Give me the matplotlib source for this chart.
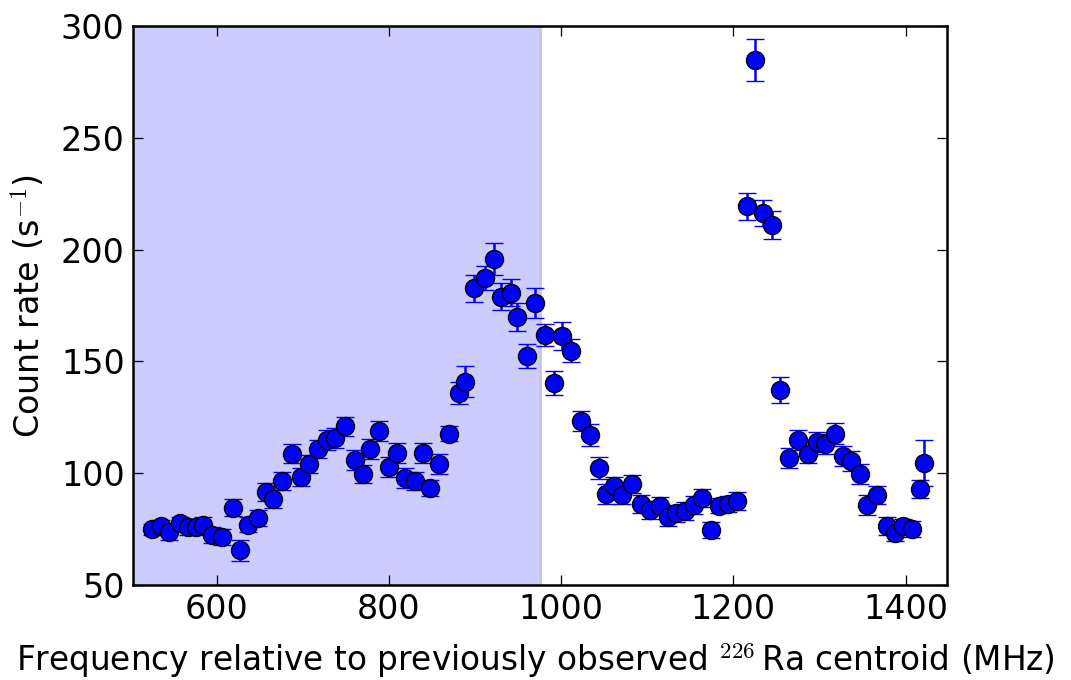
import matplotlib
matplotlib.use("Agg")
import matplotlib.pyplot as plt

plt.rcParams['mathtext.fontset'] = 'cm'
plt.rcParams['font.family'] = ['DejaVu Sans']

freq = [524.5, 535, 545, 557, 566.6, 576, 584.5, 594.5, 606.6, 618.7,
        626.8, 636.2, 648.2, 657.5, 665.7, 676.2, 687.5, 697.6, 707.7, 717.4,
        727.9, 737.6, 749.3, 760.6, 769.5, 778, 788.9, 800.6, 810, 818.9,
        830, 840, 848, 858.5, 870, 881.5, 889, 898.5, 911.4, 921.9,
        929.7, 941.3, 949, 960, 969.3, 981, 992.2, 1000.8, 1011.3, 1023.3,
        1033.8, 1043.6, 1052, 1061.5, 1071, 1082.8, 1092.9, 1103.4, 1114.6, 1123.8,
        1133.7, 1143.8, 1154, 1163.6, 1174.5, 1183.5, 1193.2, 1203.7, 1215.3, 1224.7,
        1234, 1244.9, 1254.2, 1265, 1275.6, 1286.9, 1297, 1306.7, 1317.6, 1327.3,
        1336.2, 1347.5, 1355.3, 1366.2, 1377.8, 1387.5, 1397.3, 1407, 1416.5, 1421.8]
rate = [75.0, 76.2, 73.6, 77.6, 75.9, 75.8, 77.0, 72.5, 71.6, 84.6,
        65.5, 77.0, 80.0, 91.5, 88.6, 96.5, 108.7, 98.2, 104.1, 110.8,
        114.7, 115.7, 121.0, 105.9, 99.6, 111.0, 119.0, 102.8, 109.0, 97.9,
        96.5, 109.0, 93.4, 104.0, 117.7, 136.0, 141.0, 182.7, 187.3, 195.8,
        179.0, 180.7, 169.9, 152.6, 176.1, 161.7, 140.3, 161.4, 154.8, 123.3,
        117.1, 102.3, 90.7, 94.3, 90.4, 95.3, 86.2, 83.4, 85.5, 80.3,
        82.0, 83.0, 85.9, 88.9, 74.7, 85.5, 86.2, 87.7, 219.4, 284.7,
        216.4, 211.1, 137.2, 106.7, 114.9, 108.5, 113.9, 112.9, 117.7, 107.6,
        105.3, 99.6, 85.6, 90.4, 76.2, 73.3, 76.2, 75.0, 93.1, 104.6]
err = [2.5, 3.0, 3.5, 3.0, 3.5, 3.5, 3.5, 3.5, 3.5, 3.7,
       4.8, 3.5, 3.5, 4.0, 4.0, 4.0, 4.2, 4.0, 4.2, 4.2,
       4.5, 4.5, 4.2, 4.5, 4.0, 4.5, 4.5, 4.5, 4.5, 4.5,
       4.0, 4.5, 3.5, 4.5, 3.5, 5.0, 7.0, 6.0, 5.2, 7.0,
       6.0, 6.0, 6.3, 5.4, 6.6, 5.0, 5.2, 6.4, 5.1, 4.5,
       5.0, 5.0, 4.5, 4.0, 4.0, 4.0, 4.0, 4.0, 4.0, 4.0,
       4.0, 4.0, 4.0, 4.0, 3.5, 3.5, 3.5, 4.0, 6.0, 9.5,
       5.8, 6.4, 5.9, 4.4, 4.3, 4.0, 4.5, 4.5, 4.7, 4.5,
       4.5, 4.5, 4.5, 4.0, 4.0, 3.5, 3.5, 3.5, 4.0, 10.3]

span_end = 975

fig = plt.figure(figsize=(10.71, 6.8), dpi=100)
ax = fig.add_axes([0.1242, 0.1397, 0.760, 0.822])

ax.axvspan(400, span_end, facecolor='#ccccff', edgecolor='none', zorder=0)
ax.axvline(span_end, color='#c8c8d0', linewidth=2, zorder=0.5)
ax.errorbar(freq, rate, yerr=err, fmt='o', color='blue', ecolor='blue',
            markersize=13, markeredgecolor='black', markeredgewidth=1.0,
            elinewidth=1.8, capsize=6.5, capthick=1.8, zorder=3)

ax.set_xlim(503, 1448)
ax.set_ylim(50, 300)
ax.set_xticks([600, 800, 1000, 1200, 1400])
ax.set_yticks([50, 100, 150, 200, 250, 300])
ax.tick_params(direction='in', top=True, right=True, length=7, width=0.9,
               labelsize=24, pad=6)
for s in ax.spines.values():
    s.set_linewidth(1.8)

xl = ax.set_xlabel('Frequency relative to previously observed $^{226}\\,$Ra centroid (MHz)', fontsize=23.6, labelpad=10)
xl.set_x(0.495)
ax.set_ylabel('Count rate (s$^{-1}$)', fontsize=24, labelpad=10)

fig.savefig('out.png', dpi=100)
